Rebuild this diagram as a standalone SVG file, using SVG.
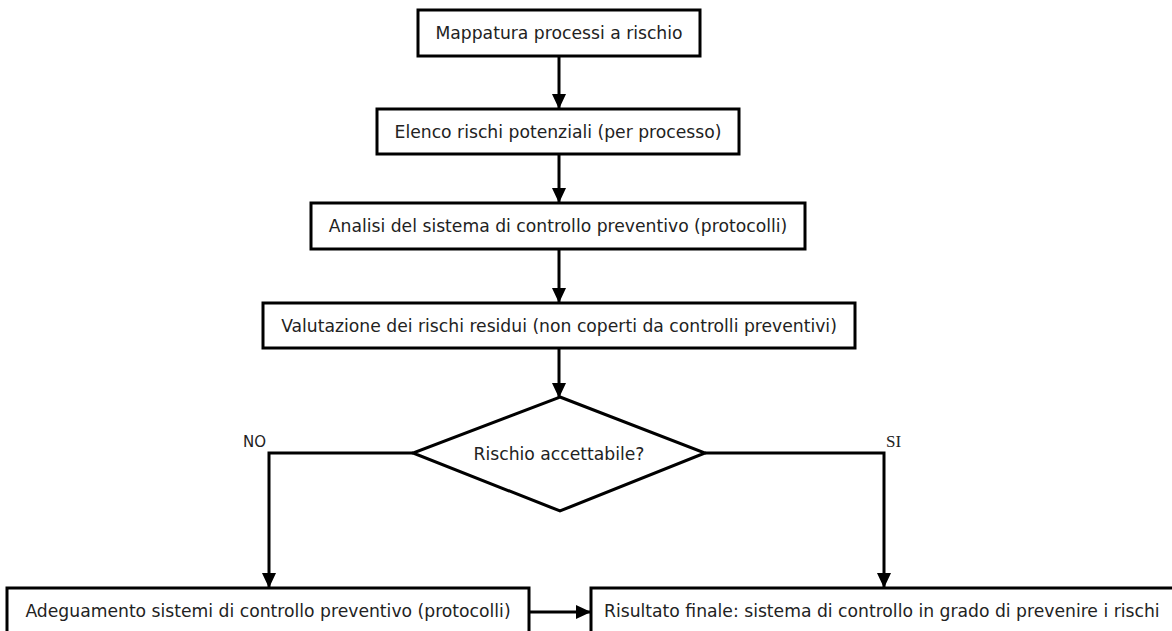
<svg xmlns="http://www.w3.org/2000/svg" width="1172" height="631" viewBox="0 0 1172 631">
<style>
.box{fill:#fff;stroke:#000;stroke-width:3}
.t{font-family:"DejaVu Sans","Verdana",sans-serif;font-size:17.2px;fill:#222;text-anchor:middle}
.lbl{font-family:"DejaVu Sans",sans-serif;font-size:15px;fill:#222}
.ser{font-family:"Liberation Serif",serif;font-size:17px;fill:#222}
.c{fill:none;stroke:#000;stroke-width:3}
</style>
<defs>
<marker id="ah" markerUnits="userSpaceOnUse" markerWidth="16" markerHeight="16" viewBox="0 0 16 16" refX="14" refY="8" orient="auto">
<path d="M0,1 L15,8 L0,15 Z" fill="#000"/>
</marker>
</defs>
<rect width="1172" height="631" fill="#fff"/>
<g id="connectors">
<path class="c" d="M559,56 V108" marker-end="url(#ah)"/>
<path class="c" d="M559,154 V202" marker-end="url(#ah)"/>
<path class="c" d="M559,249 V302" marker-end="url(#ah)"/>
<path class="c" d="M559,348 V397" marker-end="url(#ah)"/>
<path class="c" d="M413,453 H269 V587" marker-end="url(#ah)"/>
<path class="c" d="M705,453 H884 V587" marker-end="url(#ah)"/>
<path class="c" d="M529,612 H590" marker-end="url(#ah)"/>
<text class="lbl" x="243" y="447">NO</text>
<text class="ser" x="886" y="447">SI</text>
</g>
<g id="n1">
<rect class="box" x="418" y="10" width="282" height="46"/>
<text class="t" x="559" y="39">Mappatura processi a rischio</text>
</g>
<g id="n2">
<rect class="box" x="377" y="109" width="362" height="45"/>
<text class="t" x="558" y="137.5">Elenco rischi potenziali (per processo)</text>
</g>
<g id="n3">
<rect class="box" x="311" y="203" width="494" height="46"/>
<text class="t" x="558" y="232">Analisi del sistema di controllo preventivo (protocolli)</text>
</g>
<g id="n4">
<rect class="box" x="263" y="303" width="592" height="45"/>
<text class="t" x="559" y="331.5">Valutazione dei rischi residui (non coperti da controlli preventivi)</text>
</g>
<g id="n5">
<polygon class="box" points="560,397 705,453 560,511 413,453"/>
<text class="t" x="559" y="460">Rischio accettabile?</text>
</g>
<g id="n6">
<rect class="box" x="7" y="588" width="522" height="48"/>
<text class="t" x="268" y="617">Adeguamento sistemi di controllo preventivo (protocolli)</text>
</g>
<g id="n7">
<rect class="box" x="591" y="588" width="600" height="48"/>
<text class="t" x="604" y="617" style="text-anchor:start">Risultato finale: sistema di controllo in grado di prevenire i rischi</text>
</g>
</svg>
